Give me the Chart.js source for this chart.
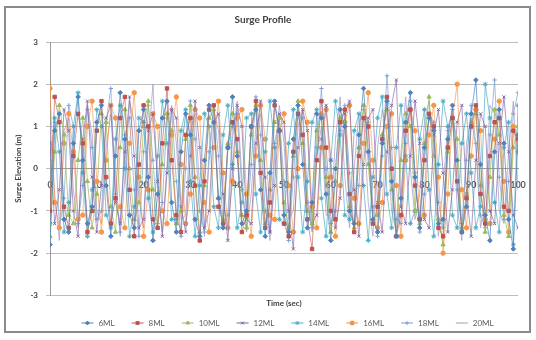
<!DOCTYPE html>
<html>
<head>
<meta charset="utf-8">
<script src="https://cdn.jsdelivr.net/npm/chart.js@4.4.1/dist/chart.umd.min.js"></script>
<style>
  html, body { margin: 0; padding: 0; background: #ffffff; }
  #wrap { width: 536px; height: 340px; position: relative; }
</style>
</head>
<body>
<div id="wrap"><canvas id="c" width="536" height="340"></canvas></div>
<script>
// Time axis (seconds)
const times = Array.from({ length: 101 }, (_, i) => i);
const xTicks = [0, 10, 20, 30, 40, 50, 60, 70, 80, 90, 100];
const yTicks = [-3, -2, -1, 0, 1, 2, 3];

const seriesNames = ['6ML', '8ML', '10ML', '12ML', '14ML', '16ML', '18ML', '20ML'];

// Surge elevation (m) per mooring line case
const ml6 = [
  -1.8, 0.9, 1.3, -1.2, -1.5, 0.6, 1.7, 0.2, -1.3, -0.9,
  1.1, 1.5, -0.4, -1.6, 0.3, 1.8, 0.7, -1.1, -1.4, 0.9,
  1.4, -0.2, -1.7, -0.6, 1.2, 1.6, -0.8, -1.5, 0.4, 1.3,
  0.8, -1.2, -1.6, 0.2, 1.5, 1.1, -0.7, -1.4, 0.5, 1.7,
  0.3, -1.3, -1.0, 1.0, 1.4, -0.5, -1.6, -0.1, 1.6, 0.9,
  -1.1, -1.5, 0.7, 1.5, 0.1, -1.4, -0.8, 1.3, 1.2, -0.6,
  -1.7, 0.0, 1.4, 1.0, -1.0, -1.3, 0.8, 1.9, 0.4, -1.2,
  -1.5, 0.6, 1.6, -0.3, -1.6, -0.7, 1.1, 1.8, -0.2, -1.4,
  0.5, 1.2, 0.9, -1.3, -1.2, 0.7, 1.5, 0.2, -1.5, -0.9,
  1.3, 2.1, 0.1, -1.1, -1.7, 0.4, 1.4, 0.6, -1.2, -1.9,
  0.8
];
const ml8 = [
  -1.0, 1.7, 1.1, -0.9, -1.4, 0.3, 1.3, 0.6, -1.5, -1.0,
  0.9, 1.6, -0.2, -1.3, -0.7, 1.2, 1.7, -0.5, -1.6, 0.1,
  1.5, 1.0, -1.2, -1.4, 0.6, 1.9, 0.2, -1.1, -1.5, 0.8,
  1.2, -0.4, -1.7, -0.3, 1.4, 1.5, -0.9, -1.3, 0.5, 1.1,
  0.7, -1.5, -1.1, 1.0, 1.6, -0.1, -1.4, -0.8, 1.5, 0.9,
  -1.3, -1.6, 0.4, 1.3, 0.8, -1.2, -1.9, 0.2, 1.6, 0.5,
  -1.0, -1.2, 1.1, 1.4, -0.6, -1.5, 0.3, 1.2, 1.0, -1.3,
  -0.9, 0.7, 1.7, 0.0, -1.6, -1.1, 0.9, 1.4, -0.4, -1.2,
  0.2, 1.3, 1.0, -1.4, -1.6, 0.5, 1.2, -0.3, -1.5, -0.7,
  1.0, 1.5, -0.6, -1.3, 0.3, 1.1, 1.2, -0.9, -1.0, 0.9,
  0.7
];
const ml10 = [
  -1.6, 0.4, 1.5, 0.8, -1.1, -1.3, 0.2, 1.2, -0.3, -1.4,
  -0.6, 1.3, 1.1, -0.9, -1.5, 0.5, 1.4, 0.0, -1.2, -0.8,
  1.0, 1.6, -0.5, -1.4, 0.1, 1.3, 0.9, -1.3, -1.0, 0.7,
  1.5, -0.2, -1.5, -0.4, 1.2, 1.4, -0.7, -1.2, 0.6, 1.3,
  0.4, -1.1, -1.4, 0.8, 1.5, 0.2, -1.3, -0.5, 1.1, 1.2,
  -0.8, -1.4, 0.3, 1.6, 0.6, -1.0, -1.3, 0.9, 1.3, -0.2,
  -1.5, -0.3, 1.2, 1.1, -0.9, -1.4, 0.5, 1.5, 0.1, -1.2,
  -1.1, 0.8, 1.4, -0.5, -1.6, 0.2, 1.3, 1.0, -1.0, -1.3,
  0.6, 1.7, 0.3, -1.2, -1.8, 0.4, 1.2, 0.7, -1.4, -0.6,
  1.1, 1.3, -0.4, -1.5, -0.2, 1.4, 0.8, -1.1, -1.6, 0.5,
  1.0
];
const ml12 = [
  0.6, -1.3, -0.5, 1.4, 0.9, -1.0, -1.6, 0.7, 1.6, -0.2,
  -1.5, -0.4, 1.2, 1.5, -0.8, -1.3, 0.4, 1.7, 0.3, -1.4,
  -1.2, 0.9, 1.3, -0.3, -1.6, -0.1, 1.4, 1.2, -0.9, -1.5,
  0.3, 1.6, 0.5, -1.4, -1.0, 1.1, 1.3, -0.6, -1.7, 0.0,
  1.5, 1.0, -1.2, -1.3, 0.6, 1.6, -0.2, -1.5, -0.4, 1.3,
  1.1, -1.0, -1.9, 0.5, 1.4, 0.9, -1.3, -1.1, 0.7, 1.5,
  0.2, -1.4, -0.7, 1.3, 1.6, -0.5, -1.6, 0.1, 1.2, 1.4,
  -0.8, -1.5, 0.4, 1.5, 2.1, -0.9, -1.3, 0.3, 1.6, 0.6,
  -1.2, -1.4, 0.8, 1.4, -0.1, -1.5, -0.5, 1.1, 1.5, -0.6,
  -1.6, 0.2, 1.3, 1.0, -1.0, -1.3, 0.6, 1.7, 0.4, -1.1,
  -1.4
];
const ml14 = [
  -1.3, 1.2, 0.4, -1.5, -0.8, 1.0, 1.8, -0.1, -1.6, -0.5,
  1.4, 1.0, -1.1, -1.4, 0.7, 1.5, 0.0, -1.6, -0.9, 1.2,
  1.1, -0.7, -1.5, 0.3, 1.6, 0.6, -1.2, -1.2, 0.9, 1.4,
  -0.3, -1.6, -0.4, 1.3, 1.0, -0.9, -1.4, 0.8, 1.5, 0.1,
  -1.4, -0.8, 1.2, 1.3, -0.6, -1.5, 0.4, 1.6, 0.5, -1.2,
  -1.3, 0.6, 1.4, -0.2, -1.5, -0.3, 1.1, 1.4, -0.7, -1.6,
  0.2, 1.6, 0.8, -1.1, -1.2, 0.9, 1.3, -0.4, -1.7, -0.2,
  1.2, 1.7, -0.6, -1.4, 0.5, 1.5, 0.3, -1.3, -1.0, 0.7,
  1.4, -0.5, -1.6, 0.1, 1.6, 1.0, -1.1, -1.4, 0.6, 1.3,
  -0.1, -1.4, -0.9, 2.0, 1.2, -0.8, -1.5, 0.5, 1.1, -1.8,
  1.5
];
const ml16 = [
  1.9, -0.8, -1.4, 0.6, 1.3, 0.4, -1.2, -1.1, 1.0, 1.6,
  -0.3, -1.5, 0.2, 1.5, 1.2, -0.9, -1.4, 0.6, 1.8, -0.2,
  -1.6, -0.5, 1.3, 1.0, -1.0, -1.3, 0.8, 1.7, 0.1, -1.3,
  -0.6, 1.4, 1.2, -0.8, -1.5, 0.5, 1.6, -0.1, -1.4, -0.3,
  1.2, 1.4, -0.6, -1.6, 0.3, 1.5, 0.7, -1.1, -1.2, 0.9,
  1.3, -0.4, -1.5, 0.0, 1.6, 1.1, -0.9, -1.4, 0.5, 1.4,
  -0.2, -1.6, -0.4, 1.1, 1.5, -0.7, -1.3, 0.6, 1.8, 0.2,
  -1.4, -0.8, 1.0, 1.3, -0.4, -1.6, 0.2, 1.4, 0.9, -1.2,
  -1.1, 0.8, 1.5, -0.2, -2.0, -0.6, 1.2, 2.0, -0.5, -1.4,
  0.3, 1.4, 0.9, -1.2, -1.3, 0.7, 1.6, -0.3, -1.5, 1.0,
  0.4
];
const ml18 = [
  0.2, 1.1, -1.4, -0.7, 1.5, 1.0, -1.3, -0.4, 1.4, 0.5,
  -1.2, -1.0, 1.1, 1.9, -0.6, -1.5, 0.8, 1.2, -0.5, -1.6,
  0.4, 1.5, 0.2, -1.3, -0.8, 1.2, 1.4, -0.3, -1.6, 0.0,
  1.6, 0.7, -1.0, -1.5, 0.4, 1.5, 0.3, -1.3, -1.1, 1.0,
  1.3, -0.5, -1.4, 0.1, 1.7, 0.8, -1.0, -1.5, 0.6, 1.2,
  -0.3, -1.7, -0.2, 1.3, 1.2, -0.8, -1.4, 0.5, 1.9, 0.0,
  -1.3, -1.0, 0.9, 1.5, -0.1, -1.5, -0.4, 1.4, 1.1, -0.9,
  -1.6, 0.3, 2.2, 0.5, -1.2, -1.3, 0.6, 1.6, -0.1, -1.5,
  -0.6, 1.3, 1.1, -0.8, -1.4, 0.9, 1.4, -0.5, -1.3, 0.2,
  1.5, 0.6, -1.1, -1.4, 0.8, 2.1, -0.2, -1.2, -0.3, 1.3,
  1.8
];
const ml20 = [
  1.0, -0.6, -1.7, 0.9, 1.2, -0.5, -1.4, 0.3, 1.5, 0.8,
  -1.0, -1.3, 0.5, 1.3, -0.1, -1.6, -0.2, 1.6, 1.1, -0.7,
  -1.4, 0.6, 2.0, -0.4, -1.5, 0.1, 1.5, 0.6, -1.2, -1.1,
  0.9, 1.3, -0.5, -1.6, 0.2, 1.4, 0.9, -0.8, -1.4, 0.7,
  1.6, -0.2, -1.5, -0.6, 1.0, 1.3, -0.4, -1.7, 0.2, 1.5,
  0.6, -1.2, -1.0, 1.0, 1.4, -0.6, -1.5, 0.3, 1.0, -1.1,
  -1.1, 0.7, 1.7, -0.2, -1.4, 0.0, 1.3, 1.2, -0.8, -1.6,
  0.5, 1.4, 0.8, -1.0, -1.5, 0.4, 1.7, 0.0, -1.2, -0.6,
  1.1, 1.6, -0.3, -1.6, -0.4, 1.0, 1.3, -0.9, -1.7, 0.6,
  1.2, 0.5, -1.4, -0.7, 1.5, 1.3, -1.0, -1.3, 0.4, 1.6,
  -0.5
];

const seriesValues = [ml6, ml8, ml10, ml12, ml14, ml16, ml18, ml20];
const seriesColors = ['#4f81bd', '#c0504d', '#9bbb59', '#8064a2', '#4bacc6', '#f79646', '#7f9fd6', '#a99bc4'];
const seriesLines  = ['rgba(79,129,189,0.7)', 'rgba(192,80,77,0.6)', 'rgba(155,187,89,0.7)', 'rgba(128,100,162,0.65)',
                      'rgba(75,172,198,0.7)', 'rgba(247,150,70,0.65)', 'rgba(127,159,214,0.7)', 'rgba(169,155,196,0.75)'];
const seriesMarkers = ['rectRot', 'rect', 'triangle', 'crossRot', 'star', 'circle', 'cross', false];
const seriesRadius  = [2.3, 2.4, 2.4, 2.2, 2.4, 2.2, 2.2, 0];

const FONT = 'Lato, "Open Sans", sans-serif';

// Small legend swatch: line segment with the series marker in the middle
function legendSwatch(i) {
  const cv = document.createElement('canvas');
  cv.width = 20; cv.height = 8;
  const g = cv.getContext('2d');
  g.strokeStyle = seriesColors[i];
  g.lineWidth = 1;
  g.beginPath(); g.moveTo(7, 4); g.lineTo(19, 4); g.stroke();
  if (seriesMarkers[i]) {
    Chart.helpers.drawPoint(g, {
      pointStyle: seriesMarkers[i], radius: 2, borderWidth: 1, rotation: 0
    }, 13, 4);
    g.fillStyle = seriesColors[i];
    g.fill();
  }
  return cv;
}

// Outer frame and white background
const framePlugin = {
  id: 'frame',
  beforeDraw(chart) {
    const ctx = chart.ctx;
    ctx.save();
    ctx.fillStyle = '#ffffff';
    ctx.fillRect(0, 0, chart.width, chart.height);
    ctx.strokeStyle = '#8a8a8a';
    ctx.lineWidth = 2;
    ctx.strokeRect(5, 7, 525, 325);
    ctx.restore();
  }
};

const datasets = seriesNames.map((name, i) => ({
  label: name,
  data: times.map((t, k) => ({ x: t, y: seriesValues[i][k] })),
  borderColor: seriesLines[i],
  backgroundColor: seriesColors[i],
  pointBorderColor: seriesColors[i],
  pointBackgroundColor: seriesColors[i],
  pointStyle: seriesMarkers[i],
  pointRadius: seriesRadius[i],
  pointBorderWidth: 1,
  borderWidth: 1,
  tension: 0,
  fill: false
}));

new Chart(document.getElementById('c'), {
  type: 'line',
  data: { datasets },
  options: {
    responsive: false,
    animation: false,
    events: [],
    layout: { padding: { left: 8, right: 18, top: 0, bottom: 3 } },
    scales: {
      x: {
        type: 'linear',
        min: 0, max: 100,
        position: { y: 0 },
        afterBuildTicks: s => { s.ticks = xTicks.map(v => ({ value: v })); },
        grid: { display: false, drawTicks: true, tickLength: 8 },
        border: { display: true, color: '#9a9a9a', width: 1 },
        ticks: {
          padding: 3,
          maxRotation: 0,
          color: '#595959',
          font: { family: FONT, size: 9, weight: 'bold' }
        }
      },
      y: {
        min: -3, max: 3,
        afterBuildTicks: s => { s.ticks = yTicks.map(v => ({ value: v })); },
        afterFit: s => { s.width = 42; },
        grid: { color: '#bdbdbd', lineWidth: 1, tickLength: 4 },
        border: { display: true, color: '#9a9a9a', width: 1 },
        ticks: {
          padding: 8,
          color: '#404040',
          font: { family: FONT, size: 8, weight: 'bold' }
        },
        title: {
          display: true,
          text: 'Surge Elevation (m)',
          color: '#404040',
          padding: { top: 6, bottom: 0 },
          font: { family: FONT, size: 8, weight: 'bold' }
        }
      }
    },
    plugins: {
      title: {
        display: true,
        text: 'Surge Profile',
        color: '#404040',
        padding: { top: 14, bottom: 16 },
        font: { family: FONT, size: 10, weight: 'bold' }
      },
      legend: {
        position: 'bottom',
        fullSize: false,
        title: {
          display: true,
          text: 'Time (sec)',
          color: '#404040',
          padding: { top: 4, bottom: 0 },
          font: { family: FONT, size: 8, weight: 'bold' }
        },
        labels: {
          usePointStyle: true,
          pointStyleWidth: 20,
          padding: 10,
          color: '#595959',
          font: { family: FONT, size: 8 },
          generateLabels: chart => seriesNames.map((name, i) => ({
            text: name,
            datasetIndex: i,
            pointStyle: legendSwatch(i),
            fillStyle: seriesColors[i],
            strokeStyle: seriesColors[i],
            lineWidth: 0,
            hidden: false,
            fontColor: '#595959'
          }))
        }
      },
      tooltip: { enabled: false }
    }
  },
  plugins: [framePlugin]
});
</script>
</body>
</html>
